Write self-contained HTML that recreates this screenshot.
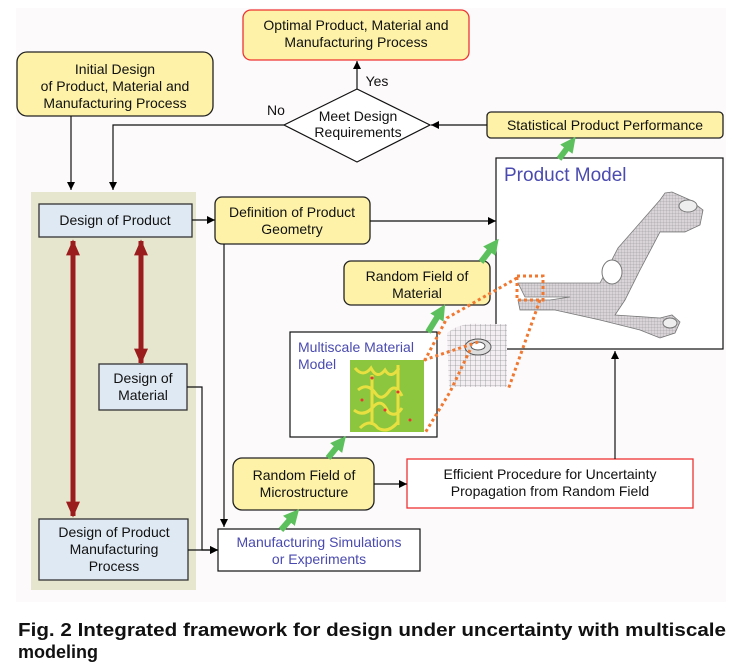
<!DOCTYPE html>
<html><head><meta charset="utf-8"><style>
body{margin:0;background:#fff;}
svg{display:block;font-family:"Liberation Sans",Arial,sans-serif;}
.t{font-size:14px;fill:#111;text-anchor:middle;}
.b{font-size:14px;fill:#4a4ab0;text-anchor:middle;}
</style></head><body>
<svg width="732" height="664" viewBox="0 0 732 664" xmlns="http://www.w3.org/2000/svg">
<defs>
<marker id="a" viewBox="0 0 10 10" refX="10" refY="5" markerWidth="8" markerHeight="8" markerUnits="userSpaceOnUse" orient="auto"><path d="M0,0L10,5L0,10z" fill="#000"/></marker>
<marker id="r" viewBox="0 0 10 10" refX="9" refY="5" markerWidth="16" markerHeight="14" markerUnits="userSpaceOnUse" orient="auto-start-reverse" preserveAspectRatio="none"><path d="M0,0L10,5L0,10z" fill="#9b1c1c"/></marker>
<marker id="g" viewBox="0 0 10 10" refX="5" refY="5" markerWidth="2.6" markerHeight="2.6" orient="auto"><path d="M0,0L10,5L0,10z" fill="#5cc15c"/></marker>
<pattern id="m" width="5" height="5" patternUnits="userSpaceOnUse"><rect width="5" height="5" fill="#f2eef2"/><path d="M0,0H5M0,0V5" stroke="#777" stroke-width="0.6"/></pattern>
<pattern id="m2" width="3" height="3" patternUnits="userSpaceOnUse"><rect width="3" height="3" fill="#d8d4d8"/><path d="M0,0H3M0,0V3" stroke="#888" stroke-width="0.4"/></pattern>
</defs>
<rect x="16" y="8" width="710" height="594" fill="#fdfafc"/>
<rect x="31" y="192" width="165" height="398" fill="#e6e6cf"/>

<rect x="243" y="10" width="226" height="50" rx="8" fill="#fdf2a8" stroke="#e33" stroke-width="1.3"/>
<text class="t" x="356" y="30">Optimal Product, Material and</text>
<text class="t" x="356" y="47">Manufacturing Process</text>

<rect x="17" y="52" width="196" height="64" rx="10" fill="#fdf2a8" stroke="#222" stroke-width="1.3"/>
<text class="t" x="115" y="74">Initial Design</text>
<text class="t" x="115" y="91">of Product, Material and</text>
<text class="t" x="115" y="108">Manufacturing Process</text>

<path d="M357,89L430,125L357,162L284,125z" fill="#fff" stroke="#111" stroke-width="1.2"/>
<text class="t" x="358" y="121">Meet Design</text>
<text class="t" x="358" y="137">Requirements</text>
<text class="t" x="377" y="86">Yes</text>
<text class="t" x="276" y="115">No</text>

<rect x="487" y="112" width="236" height="26" rx="4" fill="#fdf2a8" stroke="#222" stroke-width="1.3"/>
<text class="t" x="605" y="130">Statistical Product Performance</text>

<rect x="496" y="158" width="227" height="191" fill="#fff" stroke="#111" stroke-width="1.2"/>
<text x="504" y="181" font-size="19" fill="#4a4ab0">Product Model</text>

<rect x="39" y="204" width="153" height="33" fill="#dfe9f3" stroke="#333" stroke-width="1.3"/>
<text class="t" x="115" y="225">Design of Product</text>

<rect x="215" y="197" width="155" height="47" rx="7" fill="#fdf2a8" stroke="#222" stroke-width="1.3"/>
<text class="t" x="292" y="217">Definition of Product</text>
<text class="t" x="292" y="234">Geometry</text>

<rect x="344" y="261" width="146" height="44" rx="7" fill="#fdf2a8" stroke="#222" stroke-width="1.3"/>
<text class="t" x="417" y="281">Random Field of</text>
<text class="t" x="417" y="298">Material</text>

<rect x="290" y="332" width="147" height="105" fill="#fff" stroke="#111" stroke-width="1.2"/>
<text x="298" y="352" font-size="14" fill="#4a4ab0">Multiscale Material</text>
<text x="298" y="369" font-size="14" fill="#4a4ab0">Model</text>
<rect x="350" y="360" width="74" height="72" fill="#8cc63e"/>
<g stroke="#e8e040" stroke-width="3" fill="none">
<path d="M355,368 q8,10 16,0 q6,12 14,2 q6,10 14,-2 M358,390 q10,-8 18,4 q6,8 14,-4 q6,-6 12,6 M354,410 q10,8 20,-4 q8,-8 14,6 q8,6 14,-4 M360,428 q10,-10 18,0 q10,6 20,-6 M372,375 v50 M398,365 v60"/>
</g>
<g fill="#e33"><circle cx="372" cy="378" r="1.5"/><circle cx="398" cy="392" r="1.5"/><circle cx="385" cy="410" r="1.5"/><circle cx="410" cy="420" r="1.5"/><circle cx="362" cy="400" r="1.5"/></g>

<rect x="99" y="364" width="88" height="46" fill="#dfe9f3" stroke="#333" stroke-width="1.3"/>
<text class="t" x="143" y="383">Design of</text>
<text class="t" x="143" y="400">Material</text>

<rect x="233" y="458" width="141" height="52" rx="9" fill="#fdf2a8" stroke="#222" stroke-width="1.3"/>
<text class="t" x="304" y="480">Random Field of</text>
<text class="t" x="304" y="497">Microstructure</text>

<rect x="407" y="459" width="286" height="49" fill="#fff" stroke="#e33" stroke-width="1.3"/>
<text class="t" x="550" y="479">Efficient Procedure for Uncertainty</text>
<text class="t" x="550" y="496">Propagation from Random Field</text>

<rect x="218" y="529" width="202" height="42" fill="#fff" stroke="#111" stroke-width="1.2"/>
<text class="b" x="319" y="547">Manufacturing Simulations</text>
<text class="b" x="319" y="564">or Experiments</text>

<rect x="39" y="519" width="149" height="61" fill="#dfe9f3" stroke="#333" stroke-width="1.3"/>
<text class="t" x="114" y="537">Design of Product</text>
<text class="t" x="114" y="554">Manufacturing</text>
<text class="t" x="114" y="571">Process</text>

<g stroke="#111" stroke-width="1.2" fill="none" marker-end="url(#a)">
<path d="M71,116V190"/>
<path d="M284,125H113V190"/>
<path d="M487,125H431"/>
<path d="M357,89V61"/>
<path d="M192,220H215"/>
<path d="M370,221H496"/>
<path d="M224,244V527"/>
<path d="M187,387H202V550H218"/>
<path d="M188,550H218"/>
<path d="M374,484H407"/>
<path d="M615,459V351"/>
</g>

<g stroke="#9b1c1c" stroke-width="5" marker-start="url(#r)" marker-end="url(#r)">
<path d="M73,241V516"/>
<path d="M141,241V363"/>
</g>

<g stroke="#5cc15c" stroke-width="6" marker-end="url(#g)">
<path d="M281,530L294,515"/>
<path d="M328,458L341,442"/>
<path d="M428,332L441,311"/>
<path d="M481,262L494,245"/>
<path d="M559,159L571,143"/>
</g>

<path d="M447,333 Q460,322 480,324 L507,324 L507,387 L449,387 Z" fill="url(#m)"/>
<ellipse cx="478" cy="347" rx="13" ry="8" fill="#ddd" stroke="#555"/>
<ellipse cx="478" cy="346" rx="7" ry="4" fill="#fff" stroke="#555"/>

<g fill="url(#m2)" stroke="#777" stroke-width="0.8">
<path d="M518,283 L600,283 L618,248 L660,200 L665,193 L672,192 L690,200 L703,210 L700,225 L685,232 L660,232 L640,270 L625,300 L615,315 L660,318 L672,315 L680,322 L675,333 L660,338 L640,330 L600,320 L555,310 L520,310 L518,300 L550,300 L570,297 L525,297 Z"/>
</g>
<ellipse cx="612" cy="272" rx="10" ry="12" fill="#fff" stroke="#777"/>
<ellipse cx="688" cy="206" rx="9" ry="6" fill="#eee" stroke="#777"/>
<ellipse cx="670" cy="323" rx="7" ry="5" fill="#eee" stroke="#777"/>

<g stroke="#f07830" stroke-width="3" stroke-dasharray="3,3" fill="none">
<rect x="517" y="276" width="26" height="24"/>
<path d="M517,278 L447,318 L424,362"/>
<path d="M540,300 L508,390"/>
<path d="M470,350 L450,392 L425,433"/>
<path d="M424,360 L478,342"/>
</g>

<text x="18" y="636" font-size="18" font-weight="bold" fill="#111" textLength="708" lengthAdjust="spacingAndGlyphs">Fig. 2   Integrated framework for design under uncertainty with multiscale</text>
<text x="18" y="658" font-size="18" font-weight="bold" fill="#111">modeling</text>
</svg>
</body></html>
